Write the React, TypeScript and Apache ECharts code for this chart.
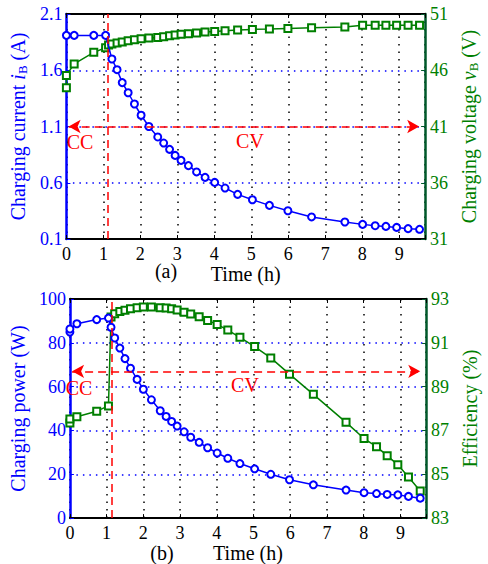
import React, { useEffect, useRef } from "react";
import * as echarts from "echarts";

// ---- Panel (a) data ----
const currentTimes = [0, 0.21, 0.74, 1.06, 1.23, 1.37, 1.51, 1.67, 1.84, 2.02, 2.23, 2.47, 2.63, 2.79, 2.94, 3.1, 3.3, 3.52, 3.75, 4.01, 4.29, 4.63, 5.03, 5.49, 5.99, 6.63, 7.53, 8.01, 8.35, 8.64, 8.93, 9.24, 9.55];
const currentValues = [1.91, 1.91, 1.91, 1.91, 1.7, 1.605, 1.49, 1.4, 1.3, 1.2, 1.1, 1.007, 0.953, 0.897, 0.843, 0.799, 0.752, 0.696, 0.648, 0.603, 0.553, 0.497, 0.449, 0.399, 0.351, 0.296, 0.251, 0.23, 0.218, 0.212, 0.203, 0.192, 0.186];
const voltageTimes = [0, 0, 0.21, 0.74, 1.06, 1.14, 1.23, 1.37, 1.51, 1.67, 1.84, 2.02, 2.23, 2.47, 2.63, 2.79, 2.94, 3.1, 3.3, 3.52, 3.75, 4.01, 4.29, 4.63, 5.03, 5.49, 5.99, 6.63, 7.53, 8.01, 8.35, 8.64, 8.93, 9.24, 9.55];
const voltageValues = [44.45, 45.54, 46.56, 47.59, 48.0, 48.24, 48.33, 48.42, 48.51, 48.63, 48.72, 48.8, 48.87, 48.92, 48.98, 49.07, 49.13, 49.19, 49.25, 49.31, 49.4, 49.45, 49.51, 49.57, 49.63, 49.67, 49.72, 49.78, 49.84, 49.99, 49.99, 49.99, 49.99, 49.99, 49.99];

// ---- Panel (b) data ----
const powerTimes = [0, 0, 0.19, 0.73, 1.05, 1.12, 1.22, 1.36, 1.5, 1.65, 1.83, 2.0, 2.22, 2.46, 2.62, 2.77, 2.92, 3.11, 3.29, 3.52, 3.75, 4.01, 4.3, 4.63, 5.03, 5.47, 5.98, 6.63, 7.52, 8.01, 8.35, 8.64, 8.93, 9.22, 9.54];
const powerValues = [84.9, 86.3, 88.7, 90.6, 91.3, 87.1, 82.2, 77.6, 72.8, 68.4, 63.3, 58.8, 54.0, 49.0, 46.4, 44.1, 42.0, 39.4, 36.9, 34.6, 32.1, 29.7, 27.3, 24.9, 22.5, 20.0, 17.5, 15.2, 12.8, 11.6, 11.2, 10.8, 10.6, 9.9, 9.1];
const efficiencyTimes = powerTimes;
const efficiencyValues = [87.34, 87.52, 87.63, 87.88, 88.12, 92.18, 92.33, 92.43, 92.49, 92.55, 92.6, 92.63, 92.63, 92.6, 92.59, 92.55, 92.5, 92.4, 92.31, 92.19, 92.02, 91.84, 91.58, 91.25, 90.83, 90.31, 89.57, 88.65, 87.37, 86.63, 86.26, 85.85, 85.43, 84.88, 84.24];

// ---- annotations ----
const modeSwitchTime = 1.13;
const arrowLevelA = 1.1;
const arrowLevelB = 67;
const arrowStart = 0.06;
const arrowEnd = 9.54;

const BLUE = "#0000ff";
const GREEN = "#007f00";
const DKGREEN = "#00582a";
const RED = "#ff0000";
const FONT = "'Liberation Serif', 'Times New Roman', serif";
const X_MAX = 9.7;

const pairs = (t: number[], v: number[]) => t.map((x, i) => [x, v[i]]);

export default function App() {
  const ref = useRef<HTMLDivElement>(null);
  useEffect(() => {
    if (!ref.current) return;
    const chart = echarts.init(ref.current, null, { renderer: "svg" });

    const xBottom = (gridIndex: number, label: string) => ({
      type: "value",
      gridIndex,
      min: 0,
      max: X_MAX,
      interval: 1,
      position: "bottom",
      name: label,
      nameLocation: "middle",
      nameGap: 22,
      nameTextStyle: { color: "#000", fontSize: 20, fontFamily: FONT, fontWeight: "normal" },
      axisLine: { show: true, onZero: false, lineStyle: { color: "#000", width: 2 } },
      axisTick: { show: true, inside: true, length: 4, lineStyle: { color: "#000" } },
      axisLabel: {
        color: "#000",
        fontSize: 18,
        fontFamily: FONT,
        margin: 6,
        formatter: (v: number) => (Number.isInteger(v) ? String(v) : ""),
      },
      splitLine: { show: true, lineStyle: { color: "#000", type: [1.5, 6], width: 1.5 } },
    });
    const xTop = (gridIndex: number) => ({
      type: "value",
      gridIndex,
      min: 0,
      max: X_MAX,
      interval: 1,
      position: "top",
      axisLine: { show: true, onZero: false, lineStyle: { color: "#000", width: 2 } },
      axisTick: { show: true, inside: true, length: 4, lineStyle: { color: "#000" } },
      axisLabel: { show: false },
      splitLine: { show: false },
    });
    const richFor = (color: string) => ({
      n: { fontSize: 20, fontFamily: FONT, color, lineHeight: 22 },
      i: { fontSize: 20, fontFamily: FONT, color, fontStyle: "italic", lineHeight: 22 },
      s: { fontSize: 13, fontFamily: FONT, color, verticalAlign: "bottom", lineHeight: 22 },
    });
    const yLeft = (gridIndex: number, min: number, max: number, interval: number, name: string, gap: number) => ({
      type: "value",
      gridIndex,
      position: "left",
      min,
      max,
      interval,
      name,
      nameLocation: "middle",
      nameRotate: 90,
      nameGap: gap,
      nameTextStyle: { color: BLUE, fontSize: 20, fontFamily: FONT, rich: richFor(BLUE) },
      axisLine: { show: true, onZero: false, lineStyle: { color: BLUE, width: 2.5 } },
      axisTick: { show: true, inside: true, length: 4, lineStyle: { color: BLUE } },
      axisLabel: { color: BLUE, fontSize: 18, fontFamily: FONT, margin: 4 },
      splitLine: { show: true, lineStyle: { color: BLUE, type: [1.5, 5], width: 1.5 } },
    });
    const yRight = (gridIndex: number, min: number, max: number, interval: number, name: string, gap: number) => ({
      type: "value",
      gridIndex,
      position: "right",
      min,
      max,
      interval,
      name,
      nameLocation: "middle",
      nameRotate: 90,
      nameGap: gap,
      nameTextStyle: { color: GREEN, fontSize: 20, fontFamily: FONT, rich: richFor(GREEN) },
      axisLine: { show: true, onZero: false, lineStyle: { color: DKGREEN, width: 2.5 } },
      axisTick: { show: true, inside: true, length: 4, lineStyle: { color: DKGREEN } },
      axisLabel: { color: GREEN, fontSize: 18, fontFamily: FONT, margin: 5 },
      splitLine: { show: false },
    });

    const markLines = (level: number) => ({
      silent: true,
      symbol: ["none", "none"],
      label: { show: false },
      lineStyle: { color: RED, type: [8, 5], width: 1.5 },
      data: [
        { xAxis: modeSwitchTime },
        [
          { coord: [arrowStart, level], symbol: "arrow", symbolSize: [10, 12] },
          { coord: [arrowEnd, level], symbol: "arrow", symbolSize: [10, 12] },
        ],
      ],
    });

    const txt = (x: number, y: number, text: string, color: string, size = 20) => ({
      type: "text",
      x,
      y,
      style: { text, fill: color, fontSize: size, fontFamily: FONT, textAlign: "center", textVerticalAlign: "middle" },
      z: 100,
    });

    chart.setOption({
      animation: false,
      textStyle: { fontFamily: FONT },
      grid: [
        { left: 59, right: 45, top: 14, height: 225 },
        { left: 57, right: 45, top: 299, height: 227 },
      ],
      xAxis: [xBottom(0, "Time (h)"), xTop(0), xBottom(1, "Time (h)"), xTop(1)],
      yAxis: [
        yLeft(0, 0.1, 2.1, 0.5, "{n|Charging current }{i|i}{s|B}{n| (A)}", 30),
        yRight(0, 31, 51, 5, "{n|Charging voltage }{i|v}{s|B}{n| (V)}", 23),
        yLeft(1, 0, 100, 20, "Charging power (W)", 32),
        yRight(1, 83, 93, 2, "Efficiency (%)", 27),
      ],
      series: [
        {
          type: "line",
          xAxisIndex: 0,
          yAxisIndex: 1,
          data: pairs(voltageTimes, voltageValues),
          symbol: "emptyRect",
          symbolSize: 7,
          lineStyle: { color: GREEN, width: 1.5 },
          itemStyle: { color: GREEN, borderWidth: 1.5 },
          z: 3,
        },
        {
          type: "line",
          xAxisIndex: 0,
          yAxisIndex: 0,
          data: pairs(currentTimes, currentValues),
          symbol: "emptyCircle",
          symbolSize: 7,
          lineStyle: { color: BLUE, width: 1.5 },
          itemStyle: { color: BLUE, borderWidth: 1.5 },
          markLine: markLines(arrowLevelA),
          z: 4,
        },
        {
          type: "line",
          xAxisIndex: 2,
          yAxisIndex: 3,
          data: pairs(efficiencyTimes, efficiencyValues),
          symbol: "emptyRect",
          symbolSize: 7,
          lineStyle: { color: GREEN, width: 1.5 },
          itemStyle: { color: GREEN, borderWidth: 1.5 },
          z: 3,
        },
        {
          type: "line",
          xAxisIndex: 2,
          yAxisIndex: 2,
          data: pairs(powerTimes, powerValues),
          symbol: "emptyCircle",
          symbolSize: 7,
          lineStyle: { color: BLUE, width: 1.5 },
          itemStyle: { color: BLUE, borderWidth: 1.5 },
          markLine: markLines(arrowLevelB),
          z: 4,
        },
      ],
      graphic: [
        txt(80, 142, "CC", RED),
        txt(250, 141, "CV", RED),
        txt(79, 388, "CC", RED),
        txt(245, 385, "CV", RED),
        txt(166, 271, "(a)", "#000"),
        txt(162, 553, "(b)", "#000"),
      ],
    });
    return () => chart.dispose();
  }, []);
  return <div ref={ref} style={{ position: "fixed", left: 0, top: 0, width: 488, height: 564, background: "#fff" }} />;
}
